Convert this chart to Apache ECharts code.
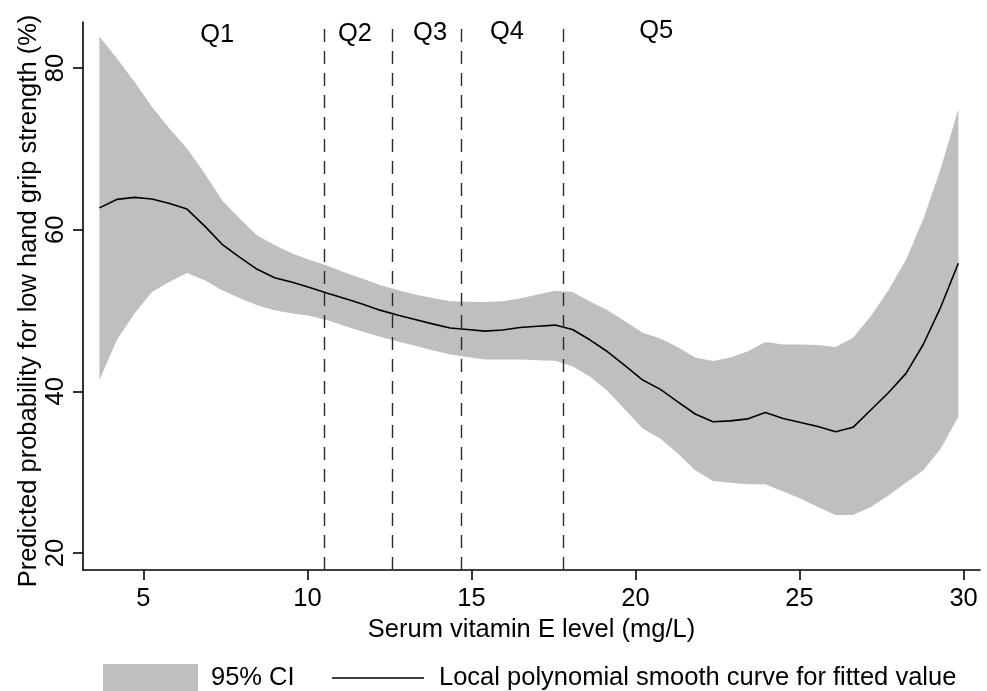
<!DOCTYPE html>
<html><head><meta charset="utf-8">
<script src="https://cdn.jsdelivr.net/npm/echarts@6/dist/echarts.min.js"></script>
<style>html,body{margin:0;padding:0;background:#fff}#c{width:987px;height:691px}</style>
</head><body><div id="c"></div>
<script>
// Serum vitamin E level (mg/L) grid of the local polynomial smooth
const vitaminE = [3.66, 4.19, 4.73, 5.26, 5.80, 6.33, 6.87, 7.40, 7.93, 8.47,
  9.00, 9.54, 10.07, 10.61, 11.14, 11.67, 12.21, 12.74, 13.28, 13.81,
  14.35, 14.88, 15.41, 15.95, 16.48, 17.02, 17.55, 18.08, 18.62, 19.15,
  19.69, 20.22, 20.76, 21.29, 21.82, 22.36, 22.89, 23.43, 23.96, 24.50,
  25.03, 25.56, 26.10, 26.63, 27.17, 27.70, 28.24, 28.77, 29.30, 29.84];
// Fitted predicted probability (%)
const fitted = [62.7, 63.75, 64.0, 63.8, 63.25, 62.55, 60.45, 58.2, 56.6, 55.1,
  54.05, 53.5, 52.85, 52.15, 51.5, 50.8, 50.05, 49.45, 48.9, 48.35,
  47.85, 47.65, 47.45, 47.6, 47.9, 48.05, 48.2, 47.65, 46.35, 44.9,
  43.15, 41.4, 40.25, 38.7, 37.2, 36.25, 36.35, 36.6, 37.4, 36.65,
  36.15, 35.65, 35.0, 35.55, 37.7, 39.8, 42.2, 45.8, 50.4, 55.85];
// 95% CI lower bound
const ciLower = [41.4, 46.35, 49.65, 52.3, 53.55, 54.65, 53.75, 52.5, 51.55, 50.65,
  50.05, 49.65, 49.35, 48.8, 48.1, 47.4, 46.75, 46.2, 45.65, 45.1,
  44.55, 44.25, 43.95, 43.95, 43.95, 43.85, 43.8, 43.1, 41.8, 40.05,
  37.7, 35.4, 34.15, 32.3, 30.25, 28.9, 28.7, 28.5, 28.5, 27.6,
  26.75, 25.7, 24.7, 24.7, 25.7, 27.1, 28.7, 30.25, 32.9, 36.85];
// 95% CI upper bound
const ciUpper = [83.9, 81.2, 78.3, 75.2, 72.5, 70.05, 66.95, 63.65, 61.4, 59.3,
  58.1, 57.05, 56.25, 55.55, 54.7, 53.95, 53.15, 52.55, 51.98, 51.55,
  51.15, 51.1, 51.05, 51.15, 51.5, 52.0, 52.45, 52.3, 51.1, 50.05,
  48.65, 47.25, 46.55, 45.45, 44.2, 43.75, 44.2, 44.95, 46.1, 45.8,
  45.8, 45.75, 45.5, 46.65, 49.3, 52.45, 56.25, 61.3, 67.55, 74.9];
// Quintile cut points and labels
const quintileCuts = [10.5, 12.6, 14.7, 17.8];
const quintileLabels = ['Q1', 'Q2', 'Q3', 'Q4', 'Q5'];
const quintileLabelX = [7.25, 11.45, 13.74, 16.08, 20.63];
const quintileLabelY = [84.1, 84.2, 84.4, 84.5, 84.6];
// Tick labels
const xTicks = [5, 10, 15, 20, 25, 30];
const yTicks = [20, 40, 60, 80];

const FONT = '"Liberation Sans", Arial, Helvetica, sans-serif';
const FS = 25.5;
const BAND = '#bfbfbf';
const CI_NAME = '95% CI';
const FIT_NAME = 'Local polynomial smooth curve for fitted value';

const chart = echarts.init(document.getElementById('c'), null, {renderer: 'canvas'});
const axisCommon = {
  type: 'value',
  splitLine: {show: false},
  axisLine: {show: true, lineStyle: {color: '#000', width: 1.6}},
  axisTick: {show: true, inside: false, length: 10, lineStyle: {color: '#000', width: 1.6}},
  nameTextStyle: {fontFamily: FONT, fontSize: FS, color: '#000'},
  nameLocation: 'middle'
};
chart.setOption({
  animation: false,
  backgroundColor: '#fff',
  textStyle: {fontFamily: FONT},
  grid: {left: 83, right: 7, top: 22, bottom: 121, containLabel: false},
  xAxis: Object.assign({}, axisCommon, {
    min: 3.16, max: 30.5,
    name: 'Serum vitamin E level (mg/L)',
    nameGap: 41,
    axisTick: Object.assign({}, axisCommon.axisTick, {customValues: xTicks}),
    axisLabel: {customValues: xTicks, fontFamily: FONT, fontSize: FS, color: '#000', margin: 16}
  }),
  yAxis: Object.assign({}, axisCommon, {
    min: 17.9, max: 85.7,
    name: 'Predicted probability for low hand grip strength (%)',
    nameGap: 41,
    nameMoveOverlap: false,
    nameRotate: 90,
    nameTextStyle: {fontFamily: FONT, fontSize: FS, color: '#000', padding: [0, 10, 0, 0]},
    axisTick: Object.assign({}, axisCommon.axisTick, {customValues: yTicks}),
    axisLabel: {customValues: yTicks, rotate: 90, fontFamily: FONT, fontSize: FS, color: '#000', margin: 14}
  }),
  legend: [
    {
      left: 103, top: 664, padding: 0,
      itemWidth: 95, itemHeight: 28,
      textStyle: {fontFamily: FONT, fontSize: FS, color: '#000', padding: [0, 0, 0, 8]},
      data: [{name: CI_NAME, icon: 'rect', itemStyle: {color: BAND}}],
      selectedMode: false
    },
    {
      left: 332, top: 665, padding: 0,
      itemWidth: 92, itemHeight: 1.6,
      textStyle: {fontFamily: FONT, fontSize: FS, color: '#000', padding: [0, 0, 0, 10]},
      data: [{name: FIT_NAME, icon: 'rect', itemStyle: {color: '#000'}}],
      selectedMode: false
    }
  ],
  series: [
    {
      name: CI_NAME, type: 'custom', silent: true, z: 1,
      itemStyle: {color: BAND},
      data: [0],
      renderItem: function (params, api) {
        const pts = [];
        for (let i = 0; i < vitaminE.length; i++) pts.push(api.coord([vitaminE[i], ciUpper[i]]));
        for (let i = vitaminE.length - 1; i >= 0; i--) pts.push(api.coord([vitaminE[i], ciLower[i]]));
        return {type: 'polygon', shape: {points: pts}, style: {fill: BAND, stroke: null}};
      }
    },
    {
      name: 'cuts', type: 'line', data: [], silent: true, z: 3,
      markLine: {
        silent: true, symbol: ['none', 'none'], label: {show: false},
        lineStyle: {color: '#2b2b2b', width: 1.4, type: [13, 9]},
        data: quintileCuts.map(v => ({xAxis: v}))
      }
    },
    {
      name: FIT_NAME, type: 'line', symbol: 'none', z: 4,
      itemStyle: {color: '#000'},
      lineStyle: {color: '#000', width: 1.6},
      data: vitaminE.map((x, i) => [x, fitted[i]])
    },
    {
      name: 'quintiles', type: 'custom', silent: true, z: 5,
      data: quintileLabels.map((q, i) => [quintileLabelX[i], quintileLabelY[i]]),
      renderItem: function (params, api) {
        const p = api.coord([api.value(0), api.value(1)]);
        return {
          type: 'text', x: p[0], y: p[1],
          style: {text: quintileLabels[params.dataIndex], font: FS + 'px ' + FONT, fill: '#000', align: 'center', verticalAlign: 'middle'}
        };
      }
    }
  ]
});
</script>
</body></html>
